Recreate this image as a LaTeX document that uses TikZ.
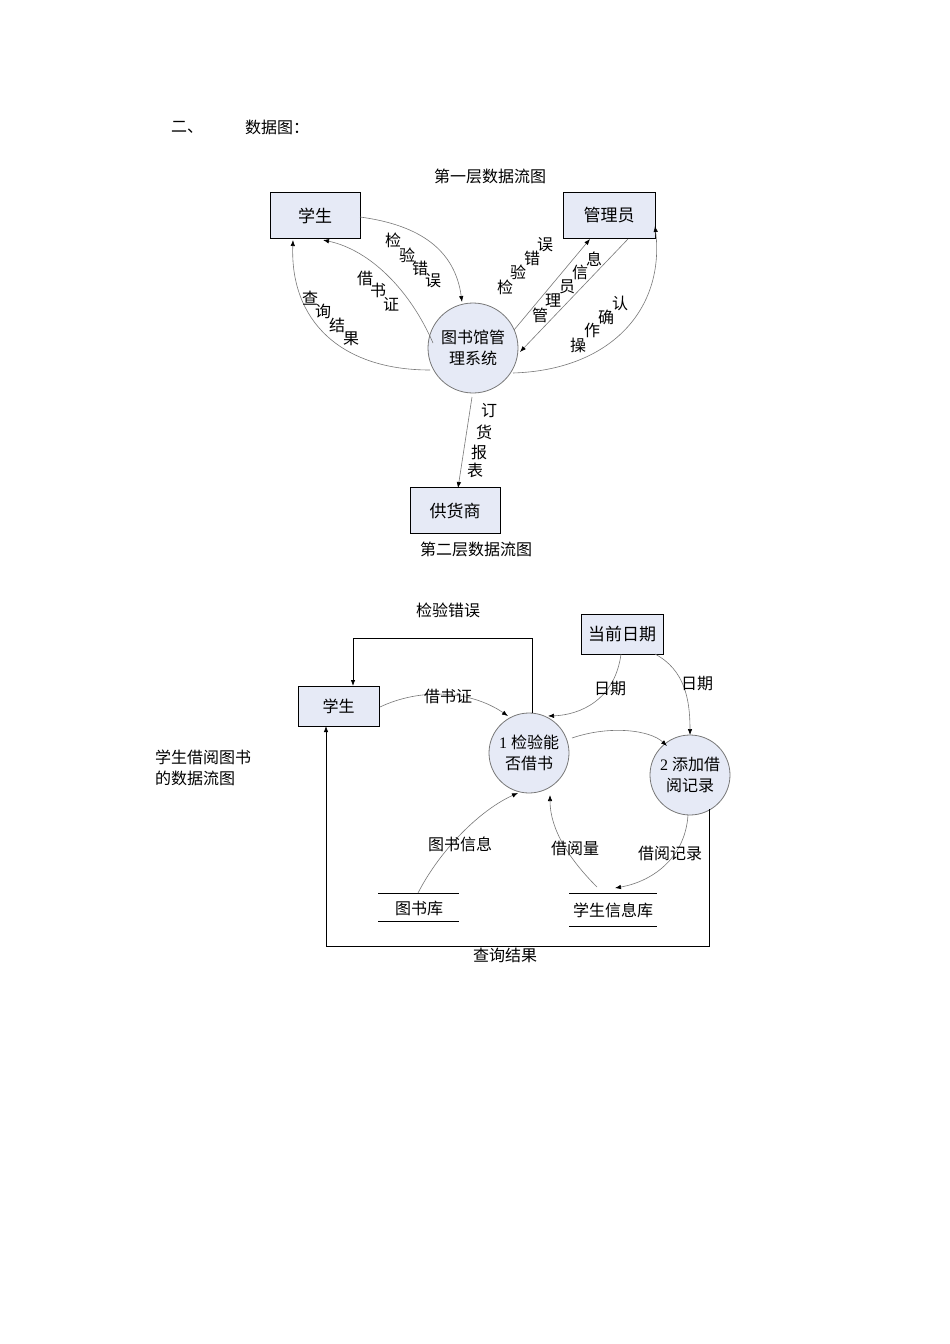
\documentclass[tikz,border=0pt]{standalone}
\usepackage{fontspec}
\setmainfont{Liberation Serif}
\newfontfamily\cjk{Noto Sans CJK SC}
\usetikzlibrary{arrows.meta}
\definecolor{boxfill}{RGB}{230,234,246}
\definecolor{ln}{RGB}{120,120,120}
\tikzset{
  box/.style={draw=black,line width=1pt,fill=boxfill,minimum width=#1,minimum height=46pt,inner sep=0pt,font=\cjk\fontsize{17}{20}\selectfont},
  box/.default=90pt,
  proc/.style={draw=ln,line width=0.8pt,fill=boxfill,circle,minimum size=#1,inner sep=0pt,align=center,font=\cjk\fontsize{16}{21}\selectfont},
  lab/.style={inner sep=0pt,font=\cjk\fontsize{16}{18}\selectfont},
  flow/.style={draw=ln,line width=0.6pt,-{Latex[length=6pt,width=4.5pt,color=black]}},
  plain/.style={draw=black,line width=0.8pt},
}
\begin{document}
\begin{tikzpicture}[x=1pt,y=-1pt]
\useasboundingbox[fill=white] (0,0) rectangle (950,1344);
% headings
\node[lab] (h1) at (187,127) {二、};
\node[lab] (h2) at (277,127) {数据图：};
\node[lab] (t1) at (490,176) {第一层数据流图};
\node[lab] (t2) at (476,549) {第二层数据流图};
% level 1
\node[box] (stu) at (315,215.5) {学生};
\node[box=92pt] (mgr) at (609,215.5) {管理员};
\node[proc=90pt] (sys) at (473,348) {图书馆管\\理系统};
\node[box] (sup) at (455,510.5) {供货商};
\coordinate (a1) at (360,217); \coordinate (a2) at (462,302);
\draw[flow] (a1) .. controls (420,225) and (455,250) .. (a2);
\coordinate (b1) at (433,343); \coordinate (b2) at (323,240);
\draw[flow] (b1) .. controls (410,290) and (370,250) .. (b2);
\coordinate (c1) at (430,370); \coordinate (c2) at (293,240);
\draw[flow] (c1) .. controls (340,370) and (290,320) .. (c2);
\coordinate (d1) at (514,330); \coordinate (d2) at (590,239);
\draw[flow] (d1) -- (d2);
\coordinate (e1) at (628,239); \coordinate (e2) at (520,352);
\draw[flow] (e1) -- (e2);
\coordinate (f1) at (513,373); \coordinate (f2) at (655,226);
\draw[flow] (f1) .. controls (610,370) and (665,310) .. (f2);
\coordinate (g1) at (472,397); \coordinate (g2) at (458,488);
\draw[flow] (g1) -- (g2);
% level 1 labels
\foreach \ch/\x/\y [count=\i] in {检/393/240,验/407/255,错/420/268,误/433/281} \node[lab] (la\i) at (\x,\y) {\ch};
\foreach \ch/\x/\y [count=\i] in {借/365/278,书/378/290,证/391/304} \node[lab] (lb\i) at (\x,\y) {\ch};
\foreach \ch/\x/\y [count=\i] in {查/310/298,询/323/311,结/337/325,果/351/339} \node[lab] (lc\i) at (\x,\y) {\ch};
\foreach \ch/\x/\y [count=\i] in {检/505/287,验/518/272,错/532/258,误/545/245} \node[lab] (ld\i) at (\x,\y) {\ch};
\foreach \ch/\x/\y [count=\i] in {管/540/315,理/553/301,员/567/287,信/580/272,息/594/259} \node[lab] (le\i) at (\x,\y) {\ch};
\foreach \ch/\x/\y [count=\i] in {操/578/345,作/592/330,确/606/317,认/620/303} \node[lab] (lf\i) at (\x,\y) {\ch};
\foreach \ch/\x/\y [count=\i] in {订/489/411,货/484/432,报/479/452,表/475/470} \node[lab] (lg\i) at (\x,\y) {\ch};
% level 2
\node[lab] (err) at (448,610) {检验错误};
\node[box=82pt,minimum height=40pt] (date) at (622,634) {当前日期};
\node[box=81pt,minimum height=40pt,font=\cjk\fontsize{16}{18}\selectfont] (stu2) at (338.5,706) {学生};
\node[proc=80pt] (p1) at (529,753) {\fontspec{Liberation Serif}1 \cjk 检验能\\否借书};
\node[proc=80pt] (p2) at (690,775) {\fontspec{Liberation Serif}2 \cjk 添加借\\阅记录};
\node[lab] (lib) at (419,908) {图书库};
\coordinate (lib1) at (378,893); \coordinate (lib2) at (459,893);
\coordinate (lib3) at (378,921); \coordinate (lib4) at (459,921);
\draw[plain] (lib1) -- (lib2); \draw[plain] (lib3) -- (lib4);
\node[lab] (sdb) at (613,910) {学生信息库};
\coordinate (s1) at (569,893); \coordinate (s2) at (657,893);
\coordinate (s3) at (569,926); \coordinate (s4) at (657,926);
\draw[plain] (s1) -- (s2); \draw[plain] (s3) -- (s4);
\node[lab,align=left,anchor=west] (cap) at (155,768) {学生借阅图书\\[3pt]的数据流图};
% level 2 flows
\coordinate (q1) at (532,713); \coordinate (q2) at (353,686);
\draw[draw=black,line width=0.8pt,-{Latex[length=6pt,width=4.5pt]}] (q1) |- (353,638) -- (q2);
\coordinate (r1) at (380,707); \coordinate (r2) at (508,716);
\draw[flow] (r1) .. controls (420,688) and (470,690) .. (r2);
\coordinate (u1) at (621,654); \coordinate (u2) at (548,716);
\draw[flow] (u1) .. controls (615,700) and (580,715) .. (u2);
\coordinate (v1) at (655,654); \coordinate (v2) at (690,735);
\draw[flow] (v1) .. controls (685,670) and (690,700) .. (v2);
\coordinate (w1) at (572,738); \coordinate (w2) at (667,746);
\draw[flow] (w1) .. controls (610,725) and (650,730) .. (w2);
\coordinate (x1) at (688,815); \coordinate (x2) at (615,888);
\draw[flow] (x1) .. controls (685,860) and (650,882) .. (x2);
\coordinate (y1) at (597,887); \coordinate (y2) at (550,795);
\draw[flow] (y1) .. controls (570,860) and (550,830) .. (y2);
\coordinate (z1) at (418,893); \coordinate (z2) at (518,793);
\draw[flow] (z1) .. controls (440,850) and (480,810) .. (z2);
\coordinate (k1) at (709,809); \coordinate (k2) at (326,726);
\draw[draw=black,line width=0.8pt,-{Latex[length=6pt,width=4.5pt]}] (k1) |- (326,946) -- (k2);
\node[lab] (m1) at (448,696) {借书证};
\node[lab] (m2) at (610,689) {日期};
\node[lab] (m3) at (697,684) {日期};
\node[lab] (m4) at (670,853) {借阅记录};
\node[lab] (m5) at (575,848) {借阅量};
\node[lab] (m6) at (460,844) {图书信息};
\node[lab] (m7) at (505,955) {查询结果};
\end{tikzpicture}
\end{document}
